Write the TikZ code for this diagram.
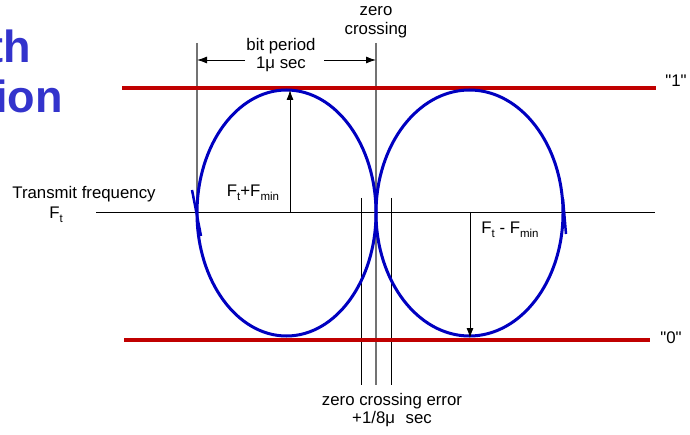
\documentclass[tikz,border=0pt]{standalone}
\usepackage{fontspec}
\setmainfont{Liberation Sans}[Ligatures=TeXOff]
\usetikzlibrary{arrows.meta}
\definecolor{curveblue}{RGB}{0,0,192}
\definecolor{levelred}{RGB}{192,0,0}
\definecolor{headblue}{RGB}{51,51,204}
\newcommand\mysub[1]{\raisebox{-0.4ex}{\fontsize{11.5}{11.5}\selectfont #1}}
\tikzset{
  lbl/.style={inner sep=0pt, font=\fontsize{16.8}{19.5}\selectfont, align=center},
  level/.style={levelred, line width=4pt},
  curve/.style={curveblue, line width=3pt},
  thin/.style={black, line width=0.9pt},
  guide/.style={black!55, line width=1.1pt},
  dimarrow/.style={black, line width=0.9pt, -{Latex[length=10pt,width=7pt]}},
  head/.style={inner sep=0pt, headblue, font=\fontsize{45}{45}\selectfont\bfseries, anchor=base east}
}
\begin{document}
\begin{tikzpicture}[x=1pt,y=-1pt]
\useasboundingbox (0,0) rectangle (690,435);
% heading fragments
\node[head] (h1) at (31,63) {th};
\node[head] (h2) at (63,113) {ion};
% coordinates
\coordinate (top1) at (122,88);
\coordinate (top2) at (656,88);
\coordinate (bot1) at (124,340);
\coordinate (bot2) at (650,340);
\coordinate (base1) at (96,212);
\coordinate (base2) at (655,212);
\coordinate (lv1) at (197,43);
\coordinate (lv2) at (197,212);
\coordinate (mv1) at (376,43);
\coordinate (mv2) at (376,385);
\coordinate (ev1) at (361,198);
\coordinate (ev2) at (361,385);
\coordinate (ew1) at (391,198);
\coordinate (ew2) at (391,385);
\coordinate (bpl) at (245,60);
\coordinate (bplt) at (197,60);
\coordinate (bpr) at (324,60);
\coordinate (bprt) at (376,60);
\coordinate (up0) at (290,212);
\coordinate (up1) at (290,90);
\coordinate (dn0) at (470,212);
\coordinate (dn1) at (470,338);
\coordinate (lc) at (286.5,213);
\coordinate (rc) at (469.5,213);
% base line and guides
\draw[thin] (base1) -- (base2);
\draw[guide] (lv1) -- (lv2);
\draw[guide] (mv1) -- (mv2);
\draw[thin] (ev1) -- (ev2);
\draw[thin] (ew1) -- (ew2);
% levels
\draw[level] (top1) -- (top2);
\draw[level] (bot1) -- (bot2);
% ellipses
\draw[curve] (lc) ellipse [x radius=89.5, y radius=123];
\draw[curve] (rc) ellipse [x radius=93.5, y radius=123];
% direction marks
\coordinate (la1) at (192,190);
\coordinate (la2) at (201,236);
\coordinate (ra1) at (563,199);
\coordinate (ra2) at (566,234);
\draw[curve, line width=2.5pt] (la1) -- (la2);
\draw[curve, line width=2.5pt] (ra1) -- (ra2);
% arrows
\draw[dimarrow] (bpl) -- (bplt);
\draw[dimarrow] (bpr) -- (bprt);
\draw[dimarrow] (up0) -- (up1);
\draw[dimarrow] (dn0) -- (dn1);
% labels
\node[lbl] (zc) at (376,22) {zero\\[-1pt]crossing};
\node[lbl] (bp) at (281,55) {bit period\\[-1pt]1μ sec};
\node[lbl] (tf) at (84,194) {Transmit frequency};
\node[lbl] (ft) at (56,215) {F\mysub{t}};
\node[lbl] (fp) at (253,193) {F\mysub{t}+F\mysub{min}};
\node[lbl] (fm) at (510,230) {F\mysub{t} - F\mysub{min}};
\node[lbl] (one) at (676,81) {"1"};
\node[lbl] (zero) at (671,338) {"0"};
\node[lbl] (zce) at (392,410) {zero crossing error\\[-1pt]+1/8μ\hspace{0.35em} sec};
\end{tikzpicture}
\end{document}
